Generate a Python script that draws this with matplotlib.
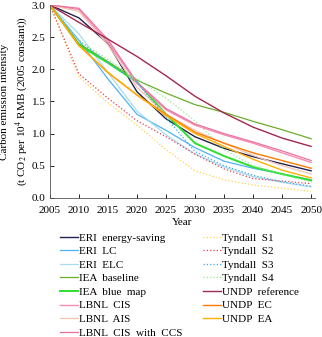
import numpy as np
import matplotlib
matplotlib.use('Agg')
import matplotlib.pyplot as plt

plt.rcParams['font.family'] = ['Liberation Serif', 'DejaVu Serif']
plt.rcParams['mathtext.fontset'] = 'stix'

years = [2005, 2010, 2015, 2020, 2025, 2030, 2035, 2040, 2045, 2050]

# values (t CO2 per 10^4 RMB)
eri_saving = [3.0, 2.80, 2.40, 1.65, 1.23, 0.95, 0.77, 0.64, 0.53, 0.42]
eri_lc = [3.0, 2.45, 1.85, 1.30, 1.05, 0.78, 0.57, 0.46, 0.37, 0.28]
eri_elc = [3.0, 2.55, 1.95, 1.35, 0.98, 0.68, 0.48, 0.33, 0.24, 0.17]
iea_base = [3.0, 2.40, 2.12, 1.83, 1.63, 1.45, 1.33, 1.19, 1.06, 0.92]
iea_blue = [3.0, 2.38, 2.10, 1.80, 1.30, 0.85, 0.65, 0.48, 0.37, 0.27]
lbnl_cis = [3.0, 2.93, 2.42, 1.78, 1.37, 1.13, 0.98, 0.85, 0.70, 0.55]
lbnl_ais = [3.0, 2.90, 2.38, 1.72, 1.30, 1.05, 0.85, 0.66, 0.50, 0.37]
lbnl_ccs = [3.0, 2.95, 2.46, 1.80, 1.39, 1.15, 1.00, 0.87, 0.73, 0.58]
tyn_s1 = [3.0, 1.88, 1.48, 1.13, 0.75, 0.42, 0.28, 0.20, 0.15, 0.10]
tyn_s2 = [3.0, 1.93, 1.55, 1.20, 0.95, 0.68, 0.45, 0.30, 0.26, 0.22]
tyn_s3 = [3.0, 2.45, 2.10, 1.80, 1.25, 0.72, 0.50, 0.35, 0.25, 0.18]
tyn_s4 = [3.0, 2.45, 2.15, 1.85, 1.55, 1.20, 0.75, 0.50, 0.36, 0.25]
undp_ref = [3.0, 2.73, 2.47, 2.20, 1.90, 1.58, 1.32, 1.10, 0.93, 0.80]
undp_ec = [3.0, 2.37, 1.95, 1.60, 1.30, 1.02, 0.85, 0.70, 0.58, 0.46]
undp_ea = [3.0, 2.37, 1.95, 1.60, 1.28, 1.00, 0.80, 0.60, 0.43, 0.31]

series = [
    ('ERI  energy-saving', eri_saving, '#22224f', '-', 1.0),
    ('ERI  LC', eri_lc, '#4db3f5', '-', 0.9),
    ('ERI  ELC', eri_elc, '#a8dcf0', '-', 0.9),
    ('IEA  baseline', iea_base, '#6aad2d', '-', 0.9),
    ('IEA  blue  map', iea_blue, '#2ee02e', '-', 1.4),
    ('LBNL  CIS', lbnl_cis, '#f58cb4', '-', 1.0),
    ('LBNL  AIS', lbnl_ais, '#f2c4b0', '-', 0.9),
    ('LBNL  CIS  with  CCS', lbnl_ccs, '#ee6f9f', '-', 0.9),
    ('Tyndall  S1', tyn_s1, '#ffd24d', ':', 0.9),
    ('Tyndall  S2', tyn_s2, '#e8404f', ':', 0.9),
    ('Tyndall  S3', tyn_s3, '#3aaaf0', ':', 0.9),
    ('Tyndall  S4', tyn_s4, '#8fe88f', ':', 0.9),
    ('UNDP  reference', undp_ref, '#a3284f', '-', 1.0),
    ('UNDP  EC', undp_ec, '#ff7a00', '-', 1.0),
    ('UNDP  EA', undp_ea, '#ffb000', '-', 1.0),
]

fig = plt.figure(figsize=(3.22, 3.37), dpi=100)
ax = fig.add_axes([0.155, 0.413, 0.822, 0.572])

for name, vals, col, ls, lw in series:
    ax.plot(years, vals, color=col, linestyle=ls, lw=lw, label=name)

ax.set_xlim(2005, 2050.6)
ax.set_ylim(0, 3.0)
ax.set_xticks(range(2005, 2051, 5))
ax.set_yticks(np.arange(0, 3.01, 0.5))
ax.yaxis.set_major_formatter(matplotlib.ticker.FormatStrFormatter('%.1f'))
ax.tick_params(direction='in', labelsize=8, length=3, width=0.6)
ax.tick_params(axis='x', pad=6)
ax.tick_params(axis='y', pad=3)
for s in ['top', 'right']:
    ax.spines[s].set_visible(False)
for s in ['left', 'bottom']:
    ax.spines[s].set_linewidth(0.6)
    ax.spines[s].set_color('#555555')

ax.set_xlabel('Year', fontsize=8, labelpad=2)
ax.set_ylabel('Carbon emission intensity\n(t CO$_2$ per 10$^4$ RMB (2005 constant))',
              fontsize=8, linespacing=1.35)
ax.yaxis.set_label_coords(-0.077, 0.5)

fig.legend(loc='upper left', bbox_to_anchor=(0.186, 0.309), ncol=2, frameon=False,
           fontsize=8, handlelength=1.6, handletextpad=0.1, labelspacing=0.34,
           columnspacing=1.85, borderpad=0, borderaxespad=0)

fig.savefig('out.png', dpi=100)
